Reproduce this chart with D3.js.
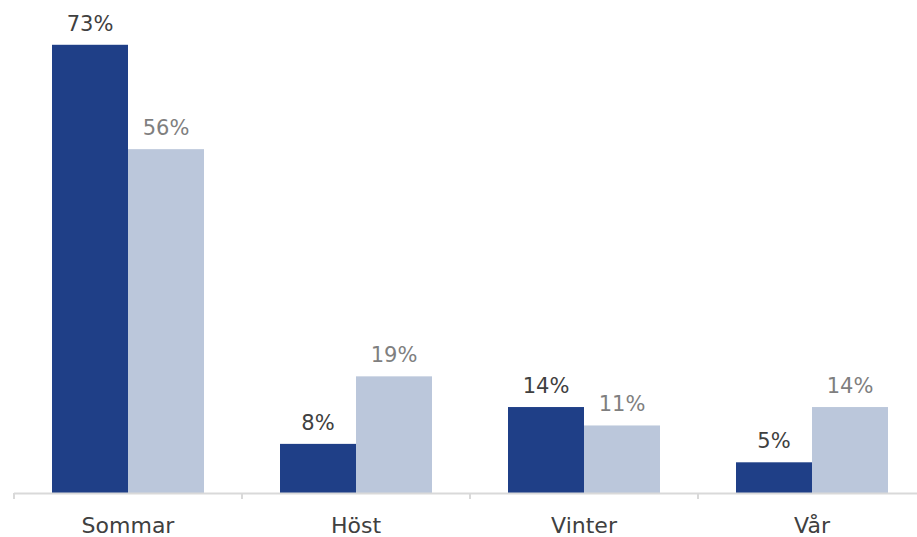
<!DOCTYPE html>
<html>
<head>
<meta charset="utf-8">
<script src="https://cdn.jsdelivr.net/npm/d3@7"></script>
<style>
  body { margin: 0; background: #fff; }
  svg { display: block; font-family: "DejaVu Sans", sans-serif; }
</style>
</head>
<body>
<div id="chart"></div>
<script>
"use strict";

// seasons and the two series (percent)
var seasons = ["Sommar", "Höst", "Vinter", "Vår"];
var seriesNames = ["A", "B"];
var valuesA = [73, 8, 14, 5];
var valuesB = [56, 19, 11, 14];

var width = 917,
    height = 537,
    left = 14,
    right = 926,   // last band runs past the window edge
    baseline = 493,
    unit = 6.14;   // px per percent

var colors = { A: "#1F3F87", B: "#BBC7DB" };
var labelColors = { A: "#404040", B: "#7F7F7F" };

var rows = seasons.map(function(s, i) {
  return { season: s, A: valuesA[i], B: valuesB[i] };
});

var svg = d3.select("#chart")
  .append("svg")
  .attr("width", width)
  .attr("height", height);

var x = d3.scaleBand()
  .domain(seasons)
  .range([left, right])
  .paddingInner(0)
  .paddingOuter(0);

var inner = d3.scaleBand()
  .domain(seriesNames)
  .range([0, x.bandwidth()])
  .paddingInner(0)
  .paddingOuter(0.5);

var y = d3.scaleLinear()
  .domain([0, 100])
  .range([baseline, baseline - 100 * unit]);

var groups = svg.append("g")
  .selectAll("g")
  .data(rows)
  .enter()
  .append("g")
  .attr("transform", function(d) { return "translate(" + x(d.season) + ",0)"; });

var cells = groups.selectAll("g")
  .data(function(d) {
    return seriesNames.map(function(k) { return { key: k, value: d[k] }; });
  })
  .enter()
  .append("g");

cells.append("rect")
  .attr("x", function(d) { return inner(d.key); })
  .attr("y", function(d) { return y(d.value); })
  .attr("width", inner.bandwidth())
  .attr("height", function(d) { return baseline - y(d.value); })
  .attr("fill", function(d) { return colors[d.key]; });

cells.append("text")
  .attr("x", function(d) { return inner(d.key) + inner.bandwidth() / 2; })
  .attr("y", function(d) { return y(d.value) - 14; })
  .attr("text-anchor", "middle")
  .attr("font-size", "21px")
  .attr("fill", function(d) { return labelColors[d.key]; })
  .text(function(d) { return d.value + "%"; });

// category axis
var axis = svg.append("g")
  .attr("transform", "translate(0," + baseline + ")")
  .call(d3.axisBottom(x).tickSize(0).tickPadding(0));

axis.select(".domain").remove();
axis.selectAll(".tick text")
  .attr("y", 40)
  .attr("dy", 0)
  .attr("font-size", "22px")
  .attr("font-family", "DejaVu Sans, sans-serif")
  .attr("fill", "#404040");

axis.append("line")
  .attr("x1", left)
  .attr("x2", right)
  .attr("y1", 0.5)
  .attr("y2", 0.5)
  .attr("stroke", "#D9D9D9")
  .attr("stroke-width", 2);

//boundary ticks between categories
axis.selectAll(".bound")
  .data(seasons.concat(["end"]))
  .enter()
  .append("line")
  .attr("class", "bound")
  .attr("x1", function(d, i) { return left + i * x.bandwidth(); })
  .attr("x2", function(d, i) { return left + i * x.bandwidth(); })
  .attr("y1", 0)
  .attr("y2", 6)
  .attr("stroke", "#D9D9D9")
  .attr("stroke-width", 2);
</script>
</body>
</html>
